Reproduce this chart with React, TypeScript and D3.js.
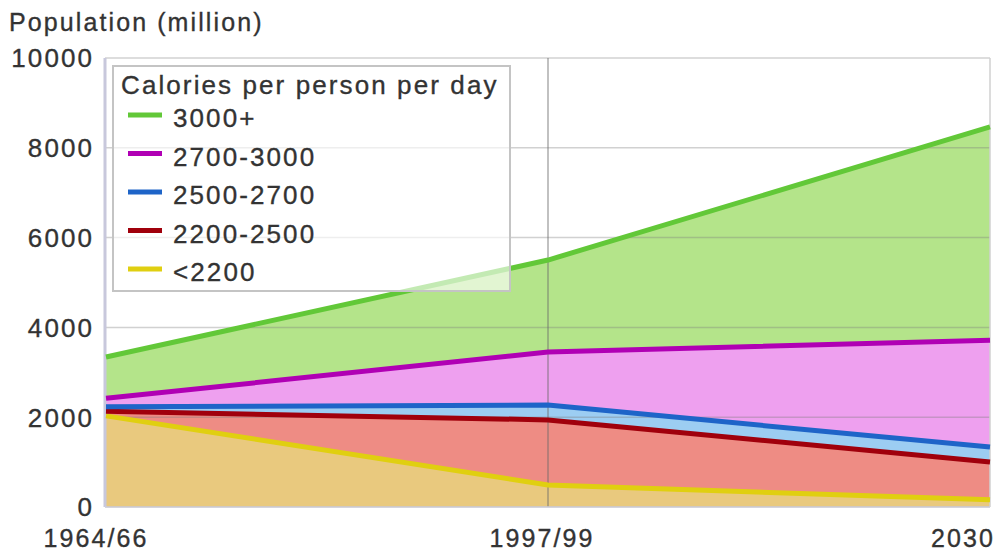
import React from "react";
import * as d3 from "d3";

const categories = ["1964/66", "1997/99", "2030"];
const seriesNames = ["<2200", "2200-2500", "2500-2700", "2700-3000", "3000+"];
const under2200 = [2030, 490, 160];
const cal2200to2500 = [100, 1450, 840];
const cal2500to2700 = [100, 330, 335];
const cal2700to3000 = [190, 1180, 2380];
const cal3000plus = [920, 2050, 4750];
const yTicks = [0, 2000, 4000, 6000, 8000, 10000];

const seriesValues = [under2200, cal2200to2500, cal2500to2700, cal2700to3000, cal3000plus];
const lineColors = ["#e0cf10", "#a0000c", "#1e64c8", "#b000b4", "#62c838"];
const fillColors = ["#e9c97e", "#ee8c84", "#9ccdf2", "#eea0ef", "#b4e48a"];

const W = 996;
const H = 554;
const M = { left: 105, right: 6, top: 58, bottom: 47 };
const FONT = "'Liberation Sans', Arial, Helvetica, sans-serif";
const LS = 2.1;
const FS = 26;
const TXT = "#333";

export default function App() {
  const rows = categories.map((c, i) => {
    const r: any = { cat: c };
    seriesNames.forEach((s, j) => (r[s] = seriesValues[j][i]));
    return r;
  });
  const stack = d3.stack().keys(seriesNames)(rows as any);

  const x = d3
    .scalePoint<string>()
    .domain(categories)
    .range([M.left + 1, W - M.right]);
  const y = d3
    .scaleLinear()
    .domain([0, 10000])
    .range([H - M.bottom, M.top]);

  const area = d3
    .area<any>()
    .x((d) => x(d.data.cat) as number)
    .y0((d) => y(d[0]))
    .y1((d) => y(d[1]));
  const line = d3
    .line<any>()
    .x((d) => x(d.data.cat) as number)
    .y((d) => y(d[1]));

  const x0 = M.left;
  const x1 = W - M.right;
  const legendItems = [...seriesNames].reverse();
  const legendColors = [...lineColors].reverse();

  const textProps = {
    fontSize: FS,
    fill: TXT,
    letterSpacing: LS,
    stroke: TXT,
    strokeWidth: 0.35,
  };

  return (
    <svg
      width={W}
      height={H}
      style={{ position: "absolute", left: 0, top: 0, background: "#fff" }}
      fontFamily={FONT}
    >
      <text x={9} y={31} {...textProps} fontSize={25}>
        Population (million)
      </text>

      {/* fills */}
      {stack.map((s, i) => (
        <path key={"a" + i} d={area(s as any) || ""} fill={fillColors[i]} />
      ))}

      {/* gridlines */}
      {yTicks.map((t) => (
        <line
          key={"g" + t}
          x1={x0}
          x2={x1}
          y1={y(t)}
          y2={y(t)}
          stroke="#7a7a7a"
          strokeOpacity={0.35}
          strokeWidth={1.5}
        />
      ))}
      <line
        x1={x(categories[1])}
        x2={x(categories[1])}
        y1={y(10000)}
        y2={y(0)}
        stroke="#6a6a6a"
        strokeOpacity={0.55}
        strokeWidth={1.5}
      />
      <line x1={x0} x2={x0} y1={y(10000)} y2={y(0)} stroke="#c8c8dc" strokeWidth={3} />
      <line x1={x1} x2={x1} y1={y(10000)} y2={y(0)} stroke="#d0d0d0" strokeWidth={1.5} />
      <line x1={x0} x2={x1} y1={y(0)} y2={y(0)} stroke="#d0d0dc" strokeWidth={1.5} />

      {/* lines */}
      {stack.map((s, i) => (
        <path
          key={"l" + i}
          d={line(s as any) || ""}
          fill="none"
          stroke={lineColors[i]}
          strokeWidth={5}
          strokeLinejoin="round"
        />
      ))}

      {/* y axis labels */}
      {yTicks.map((t) => (
        <text
          key={"yt" + t}
          x={M.left - 13 + LS}
          y={y(t)}
          dy="0.36em"
          textAnchor="end"
          {...textProps}
        >
          {t}
        </text>
      ))}

      {/* x axis labels */}
      {categories.map((c, i) => (
        <text
          key={"xt" + c}
          x={(x(c) as number) + (i === 0 ? -10 : i === 1 ? -6 : 5)}
          y={547}
          textAnchor={i === 2 ? "end" : "middle"}
          {...textProps}
          fontSize={25}
        >
          {c}
        </text>
      ))}

      {/* legend */}
      <g>
        <rect
          x={113}
          y={66}
          width={397}
          height={225}
          fill="#fff"
          fillOpacity={0.62}
          stroke="#c4c4c4"
          strokeWidth={2}
        />
        <text x={121} y={94} {...textProps}>
          Calories per person per day
        </text>
        {legendItems.map((name, i) => {
          const cy = 118 + i * 38.5;
          return (
            <g key={"lg" + name}>
              <line
                x1={128}
                x2={162}
                y1={cy - 3}
                y2={cy - 3}
                stroke={legendColors[i]}
                strokeWidth={5}
              />
              <text x={173} y={cy} dy="0.36em" {...textProps}>
                {name}
              </text>
            </g>
          );
        })}
      </g>
    </svg>
  );
}
